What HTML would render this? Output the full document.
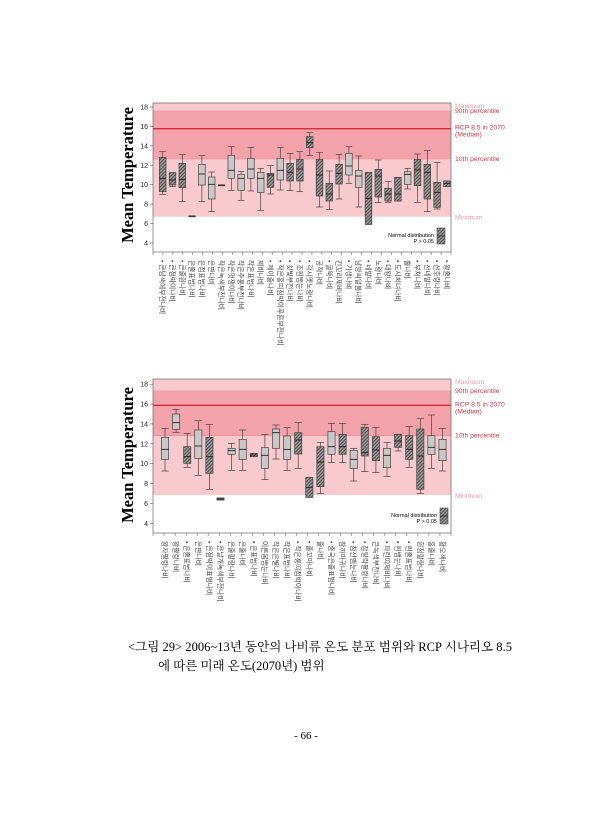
<!DOCTYPE html>
<html><head><meta charset="utf-8">
<style>
html,body{margin:0;padding:0;background:#fff;}
svg{display:block;}
</style></head>
<body>
<svg id="s" width="613" height="840" xmlns="http://www.w3.org/2000/svg" font-family="Liberation Sans, Noto Sans CJK KR, sans-serif">
<defs>
<pattern id="h" width="2.4" height="2.4" patternUnits="userSpaceOnUse" patternTransform="rotate(45)">
<rect width="2.4" height="2.4" fill="#a0a0a0"/><rect width="1" height="2.4" fill="#4a4a4a"/>
</pattern>
</defs>
<g id="g"></g>
<text x="128" y="651" font-family="Liberation Serif, Noto Serif CJK SC, serif" font-size="12.5" textLength="384" lengthAdjust="spacing">&lt;그림 29&gt; 2006~13년 동안의 나비류 온도 분포 범위와 RCP 시나리오 8.5</text>
<text x="158" y="670" font-family="Liberation Serif, Noto Serif CJK SC, serif" font-size="12.5">에 따른 미래 온도(2070년) 범위</text>
<text x="306" y="739" text-anchor="middle" font-family="Liberation Serif, serif" font-size="11">- 66 -</text>
</svg>
<script>
var g=document.getElementById('g'),out='';
function chart(c){
 var L=153,R=451;
 out+='<rect x="'+L+'" y="'+c.top+'" width="'+(R-L)+'" height="'+(c.min-c.top)+'" fill="#f8c9cd"/>';
 out+='<rect x="'+L+'" y="'+c.p90+'" width="'+(R-L)+'" height="'+(c.p10-c.p90)+'" fill="#f3a2aa"/>';
 out+='<line x1="'+L+'" x2="'+R+'" y1="'+c.p90+'" y2="'+c.p90+'" stroke="#e58a92" stroke-width="0.6"/>';
 out+='<line x1="'+L+'" x2="'+R+'" y1="'+c.p10+'" y2="'+c.p10+'" stroke="#e58a92" stroke-width="0.6"/>';
 out+='<line x1="'+L+'" x2="'+R+'" y1="'+c.med+'" y2="'+c.med+'" stroke="#d42a35" stroke-width="1.3"/>';
 out+='<rect x="'+L+'" y="'+c.top+'" width="'+(R-L)+'" height="'+(c.bot-c.top)+'" fill="none" stroke="#666" stroke-width="0.7"/>';
 for(var v=4;v<=18;v+=2){var y=c.y18+(18-v)*c.u;
  out+='<line x1="'+(L-3)+'" x2="'+L+'" y1="'+y+'" y2="'+y+'" stroke="#555" stroke-width="0.6"/>';
  out+='<text x="'+(L-5)+'" y="'+(y+2.5)+'" font-size="7" text-anchor="end" fill="#222">'+v+'</text>';}
 var n=c.d.length,step=(R-L)/c.nc;
 for(var i=0;i<=c.nc;i++){var x=L+i*step;out+='<line x1="'+x+'" x2="'+x+'" y1="'+c.bot+'" y2="'+(c.bot+3)+'" stroke="#555" stroke-width="0.5"/>';}
 c.d.forEach(function(b,i){
  var x=c.x0+i*c.dx,w=c.w/2,Y=function(z){return c.oy+z/3;};
  var a=b.map(function(z,j){return j<5?Y(z):z;});
  out+='<line x1="'+x+'" x2="'+x+'" y1="'+a[0]+'" y2="'+a[4]+'" stroke="#444" stroke-width="0.7"/>';
  out+='<line x1="'+(x-w)+'" x2="'+(x+w)+'" y1="'+a[0]+'" y2="'+a[0]+'" stroke="#444" stroke-width="0.7"/>';
  out+='<line x1="'+(x-w)+'" x2="'+(x+w)+'" y1="'+a[4]+'" y2="'+a[4]+'" stroke="#444" stroke-width="0.7"/>';
  var hh=Math.max(a[3]-a[1],0.8);
  out+='<rect x="'+(x-w)+'" y="'+a[1]+'" width="'+(2*w)+'" height="'+hh+'" fill="'+(b[5]?'url(#h)':'#c8c8c8')+'" stroke="#444" stroke-width="0.7"/>';
  out+='<line x1="'+(x-w)+'" x2="'+(x+w)+'" y1="'+a[2]+'" y2="'+a[2]+'" stroke="#222" stroke-width="0.9"/>';
  var lab=c.labs[i];
  out+='<text transform="translate('+(x-2.5)+','+(c.bot+8)+') rotate(90)" font-size="6.8" fill="#444">'+lab+'</text>';
 });
 var t=function(y,s,col){out+='<text x="455" y="'+y+'" font-size="6.8" fill="'+col+'">'+s+'</text>';};
 t(c.top+5,'Maximum','#f09aa2');t(c.p90+2,'90th percentile','#d8343f');t(c.med+1,'RCP 8.5 in 2070','#d8343f');t(c.med+8,'(Median)','#d8343f');t(c.p10+2,'10th percentile','#d8343f');t(c.min+3,'Minimum','#f09aa2');
 out+='<rect x="'+c.lx+'" y="'+c.ly+'" width="8" height="16" fill="url(#h)" stroke="#444" stroke-width="0.6"/>';
 out+='<line x1="'+c.lx+'" x2="'+(c.lx+8)+'" y1="'+(c.ly+8)+'" y2="'+(c.ly+8)+'" stroke="#222" stroke-width="0.7"/>';
 out+='<text x="'+(c.lx-3)+'" y="'+(c.ly+9)+'" font-size="5.5" text-anchor="end">Normal distribution</text>';
 out+='<text x="'+(c.lx-3)+'" y="'+(c.ly+15)+'" font-size="5.5" text-anchor="end">P &gt; 0.05</text>';
 out+='<text transform="translate(133,'+c.yl+') rotate(-90)" text-anchor="middle" font-family="Liberation Serif, serif" font-weight="bold" font-size="16.5">Mean Temperature</text>';
}
var D1=[[170,187,250,290,298,1],[233,233,255,270,275,1],[178,205,253,278,320,1],[363,363,363,364,363,0],[182,208,237,270,320,0],[231,246,268,312,350,0],[270,270,270,271,270,0],[154,181,226,250,286,0],[230,238,250,286,316,0],[157,190,222,250,288,0],[220,232,250,292,346,0],[212,235,240,277,297,1],[157,190,226,255,285,0],[175,205,232,258,287,1],[170,193,222,258,290,1],[113,125,143,158,181,1],[172,193,240,303,336,1],[228,265,297,318,343,1],[178,208,235,267,312,1],[155,175,213,240,265,0],[183,226,243,277,336,0],[232,232,310,388,388,1],[195,223,243,306,323,1],[260,280,297,318,322,1],[247,247,297,318,318,1],[220,230,238,268,282,0],[177,193,225,272,322,1],[167,208,232,312,350,1],[202,262,292,337,342,1],[258,258,265,275,275,1]];
var L1=['• 큰남색에부전나비','• 큰점박이나비','• 큰줄흰나비','은줄표범나비','은점표범나비','은판나비','작은녹색부전나비','작은멋쟁이나비','작은주홍부전나비','작은표범나비','제비나비','• 제이줄나비','• 꼬마표범나비','• 쇳빛부전나비','• 조흰뱀눈나비','• 각시멧노랑나비','공작나비','• 굴뚝나비','긴꼬리제비나비','• 기생나비','남방씨알붐나비','• 네발나비','노랑나비','• 대왕나비','• 도시처녀나비','뿔나비','• 부처나비','• 산네발나비','• 산호랑나비','• 왕줄나비'];
L1[12]='• 작은홍띠점박이푸른부전나비';
chart({top:103,p90:111,p10:159,min:216.7,med:128.7,bot:252,y18:107,u:9.71,oy:95,x0:162.7,dx:9.8,w:6.6,nc:30,d:D1,labs:L1,lx:437,ly:228,yl:175});
var D2=[[85,112,148,178,213,0],[28,42,68,88,97,0],[100,140,170,190,202,1],[62,90,138,175,226,0],[73,112,170,220,268,1],[294,294,297,300,300,1],[130,145,152,163,211,0],[90,118,148,178,211,0],[160,160,165,170,170,1],[103,143,166,205,239,0],[75,87,98,145,177,0],[83,108,148,178,211,0],[68,98,120,162,205,1],[232,232,262,292,292,1],[127,140,186,260,281,1],[70,95,140,163,188,0],[70,103,140,163,188,1],[145,151,178,205,243,0],[73,82,158,168,215,1],[82,110,150,182,218,1],[127,145,166,203,229,0],[103,103,123,142,153,1],[80,107,148,178,202,1],[56,87,168,268,281,1],[45,107,142,163,205,0],[85,118,148,182,213,0]];
var L2=['왕자팔랑나비','왕팔랑나비','• 은줄표범나비','은판나비','• 은점박이표범나비','• 은날개녹색부전나비','은줄팔랑나비','은줄나비','• 은표범나비','이른봄뱀눈나비','작은은별나비','작은표범나비','• 작은홍띠점박이나비','• 줄꼬마나비','줄나비','• 중국은줄표범나비','참까마귀나비','• 참산뱀눈나비','• 참알락팔랑나비','큰녹색부전나비','• 파란띠제비나비','• 흰뱀눈나비','• 흰줄표범나비','흰점팔랑나비','홍줄나비','황오색나비'];
chart({top:379,p90:391,p10:435.7,min:495,med:405.3,bot:533,y18:384.2,u:9.94,oy:400,x0:165,dx:11.1,w:7.2,nc:27,d:D2,labs:L2,lx:440,ly:508,yl:455});
g.innerHTML=out;
</script>
</body></html>
